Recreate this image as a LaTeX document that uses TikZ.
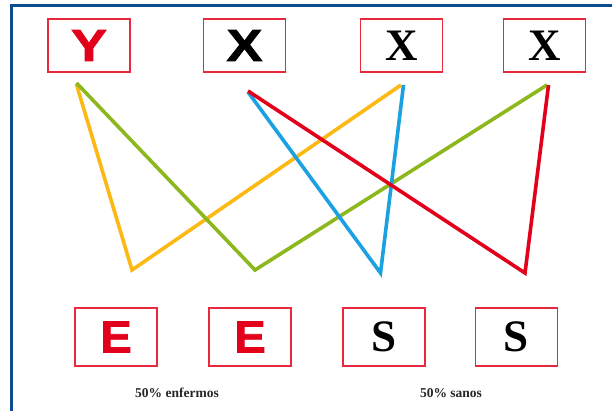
\documentclass[tikz,border=0pt]{standalone}
\usepackage{fontspec}
\setmainfont{Liberation Serif}
\newfontfamily\sansbold{Liberation Sans}[BoldFont=* Bold, BoldFeatures={FakeBold=1.5}]
\definecolor{frameblue}{HTML}{0E4C92}
\definecolor{boxred}{HTML}{E8283C}
\definecolor{letred}{HTML}{E2001A}
\definecolor{lgreen}{HTML}{8DB81D}
\definecolor{lyellow}{HTML}{FDB913}
\definecolor{lblue}{HTML}{1BA1E2}
\definecolor{lred}{HTML}{E3001B}
\begin{document}
\begin{tikzpicture}[x=1pt,y=-1pt,
  letbox/.style={draw=boxred,line width=1.1pt,minimum width=82pt,minimum height=53pt,inner sep=0pt},
  lowbox/.style={letbox,minimum height=58pt},
  sansL/.style={font=\sansbold\bfseries\fontsize{45}{45}\selectfont},
  serifL/.style={font=\bfseries\fontsize{45}{45}\selectfont},
  zig/.style={line width=3.6pt,line join=miter,miter limit=10},
  lbl/.style={font=\bfseries\fontsize{13.5}{14}\selectfont,text=black!85}]
\useasboundingbox (0,0) rectangle (612,411);
\fill[white] (0,0) rectangle (612,411);
% frame
\draw[frameblue,line width=3pt] (11.5,411) -- (11.5,6) -- (612,6);
% top boxes
\node[letbox,sansL,text=letred] (Y) at (89,45.5) {\scalebox{1.2}[1]{Y}};
\node[letbox,sansL,text=black] (X1) at (244.5,45.5) {\scalebox{1.2}[1]{X}};
\node[letbox,serifL,text=black] (X2) at (401.5,45.5) {X};
\node[letbox,serifL,text=black] (X3) at (544.5,45.5) {X};
% bottom boxes
\node[lowbox,sansL,text=letred] (E1) at (116,337) {\scalebox{1.05}[1]{E}};
\node[lowbox,sansL,text=letred] (E2) at (250,337) {\scalebox{1.05}[1]{E}};
\node[lowbox,serifL,text=black] (S1) at (384,337) {S};
\node[lowbox,serifL,text=black] (S2) at (516.5,337) {S};
% labels
\node[lbl] (l1) at (177,393) {50\% enfermos};
\node[lbl] (l2) at (451,393) {50\% sanos};
% line coordinates
\coordinate (ys) at (76.5,84.5);
\coordinate (gs) at (76.5,83);
\coordinate (rs) at (248,91);
\coordinate (bs) at (248,92);
\coordinate (ye) at (401,85);
\coordinate (be) at (403.5,85);
\coordinate (ge) at (547,85);
\coordinate (re) at (548.5,85);
\coordinate (yv) at (132,270);
\coordinate (gv) at (255,270);
\coordinate (bv) at (380.5,273);
\coordinate (rv) at (525,273);
% zigzags
\draw[zig,lyellow] (ys) -- (yv) -- (ye);
\draw[zig,lgreen] (gs) -- (gv) -- (ge);
\draw[zig,lblue] (bs) -- (bv) -- (be);
\draw[zig,lred] (rs) -- (rv) -- (re);
\end{tikzpicture}
\end{document}
